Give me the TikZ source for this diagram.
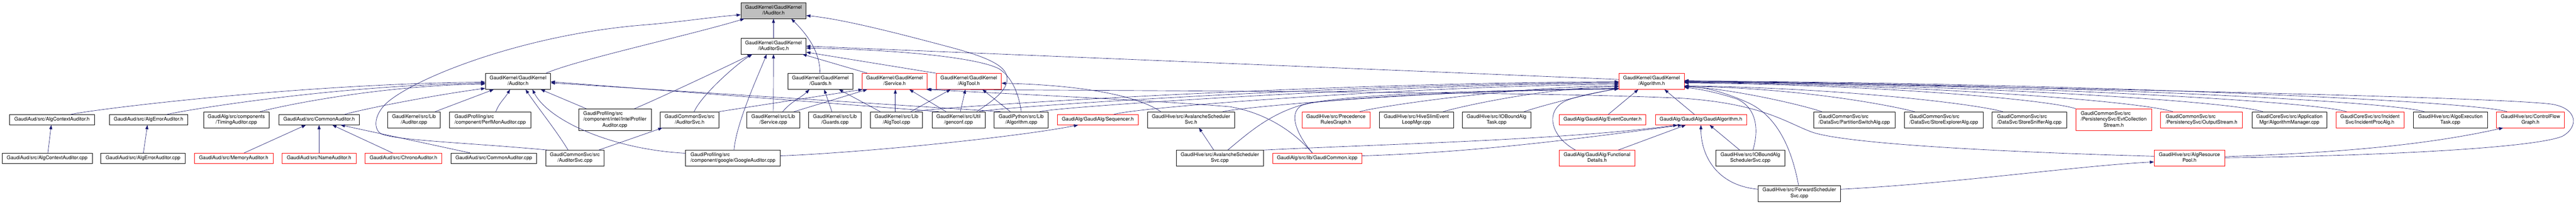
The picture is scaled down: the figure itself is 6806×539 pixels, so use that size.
\documentclass[tikz,border=0pt]{standalone}
\usepackage{fontspec}
\setmainfont{TeX Gyre Heros}
\usetikzlibrary{arrows.meta}
\definecolor{edgec}{HTML}{191970}
\definecolor{grayfill}{HTML}{BFBFBF}
\definecolor{redb}{HTML}{FF0000}
\newcommand\gnA[1]{\begin{tabular}{@{}c@{}}#1\end{tabular}}
\newcommand\gnB[2]{\begin{tabular}{@{}l@{}}#1\\\multicolumn{1}{@{}c@{}}{#2}\end{tabular}}
\newcommand\gnC[3]{\begin{tabular}{@{}l@{}}#1\\#2\\\multicolumn{1}{@{}c@{}}{#3}\end{tabular}}
\tikzset{
  gbox/.style={draw=black, line width=0.9pt, inner sep=0pt, rectangle},
  hA/.style={minimum height=27},
  hB/.style={minimum height=42},
  hC/.style={minimum height=58},
  rbox/.style={draw=redb},
  edg/.style={draw=edgec, line width=0.9pt, -{Triangle[length=11pt,width=8pt]}},
}
\begin{document}
\begin{tikzpicture}[x=1pt,y=-1pt,font=\fontsize{13.2}{15.5}\selectfont]
\fill[white] (0,0) rectangle (6806,539);
\useasboundingbox (0,0) rectangle (6806,539);

% ---- rows 1-3
\node[gbox,hB,minimum width=172.4,fill=grayfill] (IAuditor) at (2043.6,28.1) {\gnB{GaudiKernel/GaudiKernel}{/IAuditor.h}};
\node[gbox,hB,minimum width=172.4] (IAuditorSvc) at (2043.6,121.9) {\gnB{GaudiKernel/GaudiKernel}{/IAuditorSvc.h}};
\node[gbox,hB,minimum width=172.4] (Auditor) at (1368.6,214.9) {\gnB{GaudiKernel/GaudiKernel}{/Auditor.h}};
\node[gbox,hB,minimum width=172.4] (Guards) at (2167.5,214.9) {\gnB{GaudiKernel/GaudiKernel}{/Guards.h}};
\node[gbox,rbox,hB,minimum width=172.4] (ServiceH) at (2363.5,214.9) {\gnB{GaudiKernel/GaudiKernel}{/Service.h}};
\node[gbox,rbox,hB,minimum width=172.4] (AlgToolH) at (2559.6,214.9) {\gnB{GaudiKernel/GaudiKernel}{/AlgTool.h}};
\node[gbox,rbox,hB,minimum width=172.4] (AlgorithmH) at (4363.5,214.9) {\gnB{GaudiKernel/GaudiKernel}{/Algorithm.h}};

% ---- row 4
\node[gbox,hA,minimum width=224.5] (AlgCtxH) at (137.4,316.4) {\gnA{GaudiAud/src/AlgContextAuditor.h}};
\node[gbox,hA,minimum width=207.9] (AlgErrH) at (392.5,316.4) {\gnA{GaudiAud/src/AlgErrorAuditor.h}};
\node[gbox,hB,minimum width=173.8] (Timing) at (624.4,316.4) {\gnB{GaudiAlg/src/components}{/TimingAuditor.cpp}};
\node[gbox,hA,minimum width=213.1] (CommonAudH) at (843,316.4) {\gnA{GaudiAud/src/CommonAuditor.h}};
\node[gbox,hB,minimum width=139.1] (LibAuditor) at (1093.8,316.4) {\gnB{GaudiKernel/src/Lib}{/Auditor.cpp}};
\node[gbox,hB,minimum width=215.3] (PerfMon) at (1295,316.4) {\gnB{GaudiProfiling/src}{/component/PerfMonAuditor.cpp}};
\node[gbox,hC,minimum width=192.3] (Intel) at (1624.6,316.4) {\gnC{GaudiProfiling/src}{/component/intel/IntelProfiler}{Auditor.cpp}};
\node[gbox,hB,minimum width=155.3] (AudSvcH) at (1822,316.4) {\gnB{GaudiCommonSvc/src}{/AuditorSvc.h}};
\node[gbox,hB,minimum width=139.5] (ServiceCpp) at (2043,316.4) {\gnB{GaudiKernel/src/Lib}{/Service.cpp}};
\node[gbox,hB,minimum width=139] (GuardsCpp) at (2206,316.4) {\gnB{GaudiKernel/src/Lib}{/Guards.cpp}};
\node[gbox,hB,minimum width=138] (AlgToolCpp) at (2368.5,316.4) {\gnB{GaudiKernel/src/Lib}{/AlgTool.cpp}};
\node[gbox,hB,minimum width=140.2] (Genconf) at (2532.4,316.4) {\gnB{GaudiKernel/src/Util}{/genconf.cpp}};
\node[gbox,hB,minimum width=143.1] (PyAlg) at (2698.2,316.4) {\gnB{GaudiPython/src/Lib}{/Algorithm.cpp}};
\node[gbox,rbox,hA,minimum width=214.1] (Sequencer) at (2900.5,316.4) {\gnA{GaudiAlg/GaudiAlg/Sequencer.h}};
\node[gbox,hB,minimum width=231.2] (AvalH) at (3146.8,316.4) {\gnB{GaudiHive/src/AvalancheScheduler}{Svc.h}};
\node[gbox,rbox,hB,minimum width=180.2] (Precedence) at (3529.6,316.4) {\gnB{GaudiHive/src/Precedence}{RulesGraph.h}};
\node[gbox,hB,minimum width=195.3] (HiveSlim) at (3742.2,316.4) {\gnB{GaudiHive/src/HiveSlimEvent}{LoopMgr.cpp}};
\node[gbox,hB,minimum width=180.9] (IOTask) at (3953.9,316.4) {\gnB{GaudiHive/src/IOBoundAlg}{Task.cpp}};
\node[gbox,rbox,hA,minimum width=229.3] (EventCounter) at (4234,316.4) {\gnA{GaudiAlg/GaudiAlg/EventCounter.h}};
\node[gbox,rbox,hA,minimum width=240.8] (GaudiAlgH) at (4493.9,316.4) {\gnA{GaudiAlg/GaudiAlg/GaudiAlgorithm.h}};
\node[gbox,hB,minimum width=215.2] (Partition) at (4899.1,316.4) {\gnB{GaudiCommonSvc/src}{/DataSvc/PartitionSwitchAlg.cpp}};
\node[gbox,hB,minimum width=208.2] (Explorer) at (5135.6,316.4) {\gnB{GaudiCommonSvc/src}{/DataSvc/StoreExplorerAlg.cpp}};
\node[gbox,hB,minimum width=196.1] (Sniffer) at (5361.5,316.4) {\gnB{GaudiCommonSvc/src}{/DataSvc/StoreSnifferAlg.cpp}};
\node[gbox,rbox,hC,minimum width=200.4] (EvtColl) at (5584.5,316.4) {\gnC{GaudiCommonSvc/src}{/PersistencySvc/EvtCollection}{Stream.h}};
\node[gbox,rbox,hB,minimum width=216.4] (OutStream) at (5816.6,316.4) {\gnB{GaudiCommonSvc/src}{/PersistencySvc/OutputStream.h}};
\node[gbox,hB,minimum width=197.9] (AlgMgr) at (6048.6,316.4) {\gnB{GaudiCoreSvc/src/Application}{Mgr/AlgorithmManager.cpp}};
\node[gbox,rbox,hB,minimum width=180.1] (Incident) at (6261.5,316.4) {\gnB{GaudiCoreSvc/src/Incident}{Svc/IncidentProcAlg.h}};
\node[gbox,hB,minimum width=195.3] (AlgoExec) at (6474,316.4) {\gnB{GaudiHive/src/AlgoExecution}{Task.cpp}};
\node[gbox,rbox,hB,minimum width=180] (CFG) at (6685.5,316.4) {\gnB{GaudiHive/src/ControlFlow}{Graph.h}};

% ---- row 5
\node[gbox,hA,minimum width=237.9] (AlgCtxCpp) at (124.5,417.9) {\gnA{GaudiAud/src/AlgContextAuditor.cpp}};
\node[gbox,hA,minimum width=223.1] (AlgErrCpp) at (377.9,417.9) {\gnA{GaudiAud/src/AlgErrorAuditor.cpp}};
\node[gbox,rbox,hA,minimum width=207.9] (Memory) at (617.4,417.9) {\gnA{GaudiAud/src/MemoryAuditor.h}};
\node[gbox,rbox,hA,minimum width=195.3] (Name) at (843,417.9) {\gnA{GaudiAud/src/NameAuditor.h}};
\node[gbox,rbox,hA,minimum width=203] (Chrono) at (1065.8,417.9) {\gnA{GaudiAud/src/ChronoAuditor.h}};
\node[gbox,hA,minimum width=226.4] (CommonAudCpp) at (1304.6,417.9) {\gnA{GaudiAud/src/CommonAuditor.cpp}};
\node[gbox,hB,minimum width=155] (AudSvcCpp) at (1518.9,417.9) {\gnB{GaudiCommonSvc/src}{/AuditorSvc.cpp}};
\node[gbox,hB,minimum width=250.1] (Google) at (1936.4,417.9) {\gnB{GaudiProfiling/src}{/component/google/GoogleAuditor.cpp}};
\node[gbox,hB,minimum width=230.8] (AvalCpp) at (3222.8,417.9) {\gnB{GaudiHive/src/AvalancheScheduler}{Svc.cpp}};
\node[gbox,rbox,hA,minimum width=236] (GCommon) at (3480.2,417.9) {\gnA{GaudiAlg/src/lib/GaudiCommon.icpp}};
\node[gbox,rbox,hB,minimum width=200.1] (Functional) at (4219.5,417.9) {\gnB{GaudiAlg/GaudiAlg/Functional}{Details.h}};
\node[gbox,hB,minimum width=182.3] (IOSched) at (4624.4,417.9) {\gnB{GaudiHive/src/IOBoundAlg}{SchedulerSvc.cpp}};
\node[gbox,rbox,hB,minimum width=186.4] (Pool) at (5784.6,417.9) {\gnB{GaudiHive/src/AlgResource}{Pool.h}};

% ---- row 6
\node[gbox,hB,minimum width=217.2] (Forward) at (4753.9,511) {\gnB{GaudiHive/src/ForwardScheduler}{Svc.cpp}};

% ================= edges
% into IAuditor.h
\draw[edg] (IAuditorSvc.north) -- (IAuditor.south);
\draw[edg] ([xshift=74]Auditor.north) .. controls +(80,-35) and +(-150,45) .. ([xshift=-77]IAuditor.south);
\draw[edg] ([xshift=-1]Guards.north) .. controls +(0,-55) and +(45,45) .. ([xshift=47]IAuditor.south);
\draw[edg] ([xshift=-72]AudSvcCpp.north) .. controls (1250,378) and (1060,372) .. (1010,355) .. controls (985,345) and (985,300) .. (1030,265) .. controls (1120,195) and (1400,90) .. (1700,66) .. controls (1800,58) and (1880,45) .. ([yshift=-11]IAuditor.west);
\draw[edg] ([xshift=48]Genconf.north) .. controls (2625,265) and (2668,235) .. (2660,200) .. controls (2652,170) and (2600,148) .. (2500,122) .. controls (2350,82) and (2220,50) .. ([yshift=-13]IAuditor.east);

% into IAuditorSvc.h
\draw[edg] ([xshift=12]AudSvcH.north) .. controls +(20,-45) and +(-40,25) .. ([xshift=-56]IAuditorSvc.south);
\draw[edg] ([xshift=52]Intel.north) .. controls +(60,-25) and +(-60,30) .. ([xshift=-58]IAuditorSvc.south);
\draw[edg] ([xshift=3]Google.north) .. controls +(5,-70) and +(-20,50) .. ([xshift=-18]IAuditorSvc.south);
\draw[edg] (ServiceCpp.north) -- (IAuditorSvc.south);
\draw[edg] ([yshift=5]AlgorithmH.west) -- (IAuditorSvc.east);
\draw[edg] (PyAlg.north) .. controls (2692,250) and (2675,205) .. (2640,182) .. controls (2590,155) and (2400,132) .. ([yshift=-5]IAuditorSvc.east);
\draw[edg] (AlgToolH.north west) -- ([yshift=-16]IAuditorSvc.east);
\draw[edg] ([xshift=-72]ServiceH.north) -- ([xshift=-10]IAuditorSvc.south east);

% into Auditor.h
\draw[edg] ([xshift=49]AlgCtxH.north) .. controls +(50,-12) and +(-500,5) .. ([yshift=-2]Auditor.west);
\draw[edg] ([xshift=48]AlgErrH.north) .. controls +(40,-10) and +(-400,5) .. ([yshift=-5]Auditor.west);
\draw[edg] ([xshift=63]Timing.north) .. controls +(35,-10) and +(-300,5) .. ([yshift=-7]Auditor.west);
\draw[edg] ([xshift=67]CommonAudH.north) .. controls +(40,-12) and +(-150,20) .. ([yshift=3]Auditor.south west);
\draw[edg] ([xshift=56]LibAuditor.north) -- ([xshift=-64]Auditor.south);
\draw[edg] ([xshift=15]PerfMon.north) .. controls +(10,-25) and +(-15,25) .. ([xshift=-21]Auditor.south);
\draw[edg] ([xshift=-18]AudSvcCpp.north) .. controls +(-30,-50) and +(30,45) .. ([xshift=20]Auditor.south);
\draw[edg] ([yshift=13]Google.west) .. controls (1620,395) and (1450,320) .. ([xshift=38]Auditor.south);
\draw[edg] ([xshift=-76]Intel.north) -- ([xshift=60]Auditor.south);
\draw[edg] ([xshift=-52]Genconf.north) -- ([yshift=-1]Auditor.east);
\draw[edg] ([xshift=-55]PyAlg.north) -- ([yshift=-4]Auditor.east);

% auditor family
\draw[edg] ([xshift=2]AlgCtxCpp.north) -- ([xshift=-2]AlgCtxH.south);
\draw[edg] ([xshift=1]AlgErrCpp.north) -- ([xshift=-3]AlgErrH.south);
\draw[edg] ([xshift=28]Memory.north) -- ([xshift=-35]CommonAudH.south);
\draw[edg] (Name.north) -- (CommonAudH.south);
\draw[edg] ([xshift=-29]Chrono.north) -- ([xshift=35]CommonAudH.south);
\draw[edg] ([xshift=-63]CommonAudCpp.north) -- ([xshift=57]CommonAudH.south);
\draw[edg] ([xshift=63]AudSvcCpp.north) -- ([xshift=-72]AudSvcH.south);
\draw[edg] ([yshift=6]Google.east) .. controls +(240,-10) and +(-150,30) .. ([xshift=-52]Sequencer.south);

% Service.h, Guards.h, AlgTool.h
\draw[edg] (AudSvcH.north east) -- ([xshift=2]ServiceH.south west);
\draw[edg] ([xshift=55]ServiceCpp.north) -- ([xshift=-72]ServiceH.south);
\draw[edg] ([xshift=25]ServiceCpp.north) .. controls +(20,-25) and +(-20,20) .. ([xshift=-29]Guards.south);
\draw[edg] ([xshift=-8]GuardsCpp.north) -- ([xshift=10]Guards.south);
\draw[edg] ([xshift=-43]AlgToolCpp.north) -- ([xshift=49]Guards.south);
\draw[edg] ([xshift=-3]AlgToolCpp.north) -- ([xshift=2]ServiceH.south);
\draw[edg] ([xshift=38]AlgToolCpp.north) -- ([xshift=-48]AlgToolH.south);
\draw[edg] ([xshift=-33]Genconf.north) -- ([xshift=39]ServiceH.south);
\draw[edg] ([xshift=5]Genconf.north) -- ([xshift=-9]AlgToolH.south);
\draw[edg] ([xshift=-29]PyAlg.north) -- ([xshift=36]AlgToolH.south);
\draw[edg] ([xshift=-80]AvalH.north) .. controls (3000,250) and (2850,225) .. ([yshift=-5]AlgToolH.east);
\draw[edg] ([xshift=-13]GCommon.north) .. controls (3420,350) and (3350,300) .. (3250,282) .. controls (3000,262) and (2600,245) .. (ServiceH.south east);
\draw[edg] ([yshift=5]Pool.west) .. controls (5400,405) and (4900,385) .. (4790,350) .. controls (4720,325) and (4660,275) .. (4450,260) .. controls (4100,242) and (3000,240) .. ([xshift=-3]ServiceH.south east);
\draw[edg] ([xshift=-16]AvalCpp.north) -- ([xshift=21]AvalH.south);

% into Algorithm.h from the left
\draw[edg] ([xshift=49]AlgToolCpp.north) .. controls +(40,-12) and +(-800,3) .. ([yshift=-1]AlgorithmH.west);
\draw[edg] ([xshift=55]Genconf.north) .. controls +(40,-12) and +(-700,3) .. ([yshift=-3]AlgorithmH.west);
\draw[edg] ([xshift=49]PyAlg.north) .. controls +(40,-12) and +(-600,3) .. ([yshift=-5]AlgorithmH.west);
\draw[edg] ([xshift=42]Sequencer.north) .. controls +(60,-20) and +(-500,3) .. ([yshift=-8]AlgorithmH.west);
\draw[edg] ([xshift=84]AvalH.north) .. controls +(50,-12) and +(-500,5) .. ([yshift=3]AlgorithmH.south west);
\draw[edg] ([xshift=21]AvalCpp.north) .. controls (3300,350) and (3360,295) .. (3460,272) .. controls (3700,245) and (4100,238) .. ([yshift=2]AlgorithmH.south west);
\draw[edg] ([xshift=-13]GCommon.north) .. controls (3430,360) and (3400,300) .. (3440,278) .. controls (3550,245) and (4000,238) .. ([yshift=1]AlgorithmH.south west);
\draw[edg] ([xshift=63]Precedence.north) .. controls +(40,-12) and +(-300,3) .. ([yshift=-12]AlgorithmH.west);
\draw[edg] ([xshift=71]HiveSlim.north) .. controls +(40,-12) and +(-200,3) .. ([yshift=-14]AlgorithmH.west);
\draw[edg] ([xshift=73]IOTask.north) .. controls +(60,-20) and +(-80,15) .. ([yshift=3]AlgorithmH.south west);
\draw[edg] ([xshift=15]EventCounter.north) -- ([xshift=-35]AlgorithmH.south);
\draw[edg] ([xshift=-17]GaudiAlgH.north) -- ([xshift=34]AlgorithmH.south);
\draw[edg] ([xshift=-57]Functional.north) .. controls (4095,360) and (4080,290) .. (4140,265) .. controls (4180,250) and (4230,243) .. ([yshift=3]AlgorithmH.south west);

% into GaudiAlgorithm.h
\draw[edg] (AvalCpp.north east) .. controls +(300,-15) and +(-300,40) .. ([xshift=-62]GaudiAlgH.south);
\draw[edg] ([yshift=6]GCommon.east) .. controls +(300,-10) and +(-300,40) .. ([xshift=-50]GaudiAlgH.south);
\draw[edg] ([xshift=56]Functional.north) -- ([xshift=-40]GaudiAlgH.south);
\draw[edg] ([xshift=-28]IOSched.north) -- ([xshift=23]GaudiAlgH.south);
\draw[edg] ([yshift=11]Forward.west) .. controls +(-110,-10) and +(0,80) .. (GaudiAlgH.south);

% into Algorithm.h from the right
\draw[edg] ([xshift=7]IOSched.north) .. controls (4648,340) and (4640,285) .. (4590,262) .. controls (4540,245) and (4490,235) .. ([yshift=-16]AlgorithmH.east);
\draw[edg] ([xshift=-2]Forward.north) .. controls (4735,400) and (4700,310) .. (4620,272) .. controls (4560,245) and (4500,228) .. ([yshift=-15]AlgorithmH.east);
\draw[edg] ([yshift=11]Forward.east) .. controls +(300,-15) and +(-200,10) .. ([yshift=-10]Pool.west);
\draw[edg] ([yshift=4]Pool.east) .. controls +(300,-10) and +(-200,45) .. ([xshift=-72]CFG.south);
\draw[edg] ([yshift=1]Pool.east) .. controls (6300,412) and (6700,390) .. (6770,360) .. controls (6815,335) and (6810,285) .. (6740,275) .. controls (6550,252) and (5000,225) .. ([yshift=2]AlgorithmH.east);
\draw[edg] ([xshift=-86]Partition.north) .. controls +(-60,-20) and +(120,5) .. ([yshift=-14]AlgorithmH.east);
\draw[edg] ([xshift=-77]Explorer.north) .. controls +(-80,-20) and +(300,5) .. ([yshift=-13]AlgorithmH.east);
\draw[edg] ([xshift=-70]Sniffer.north) .. controls +(-80,-22) and +(400,5) .. ([yshift=-12]AlgorithmH.east);
\draw[edg] (EvtColl.north west) .. controls +(-80,-25) and +(500,5) .. ([yshift=-4]AlgorithmH.east);
\draw[edg] ([xshift=-76]OutStream.north) .. controls +(-100,-30) and +(600,5) .. ([yshift=-3]AlgorithmH.east);
\draw[edg] ([xshift=-70]AlgMgr.north) .. controls +(-100,-30) and +(700,5) .. ([yshift=-2]AlgorithmH.east);
\draw[edg] ([xshift=-62]Incident.north) .. controls +(-100,-30) and +(800,5) .. ([yshift=-1]AlgorithmH.east);
\draw[edg] ([xshift=-69]AlgoExec.north) .. controls +(-100,-30) and +(900,5) .. (AlgorithmH.east);
\draw[edg] ([xshift=-62]CFG.north) .. controls +(-100,-30) and +(1000,5) .. ([yshift=1]AlgorithmH.east);
\end{tikzpicture}
\end{document}
